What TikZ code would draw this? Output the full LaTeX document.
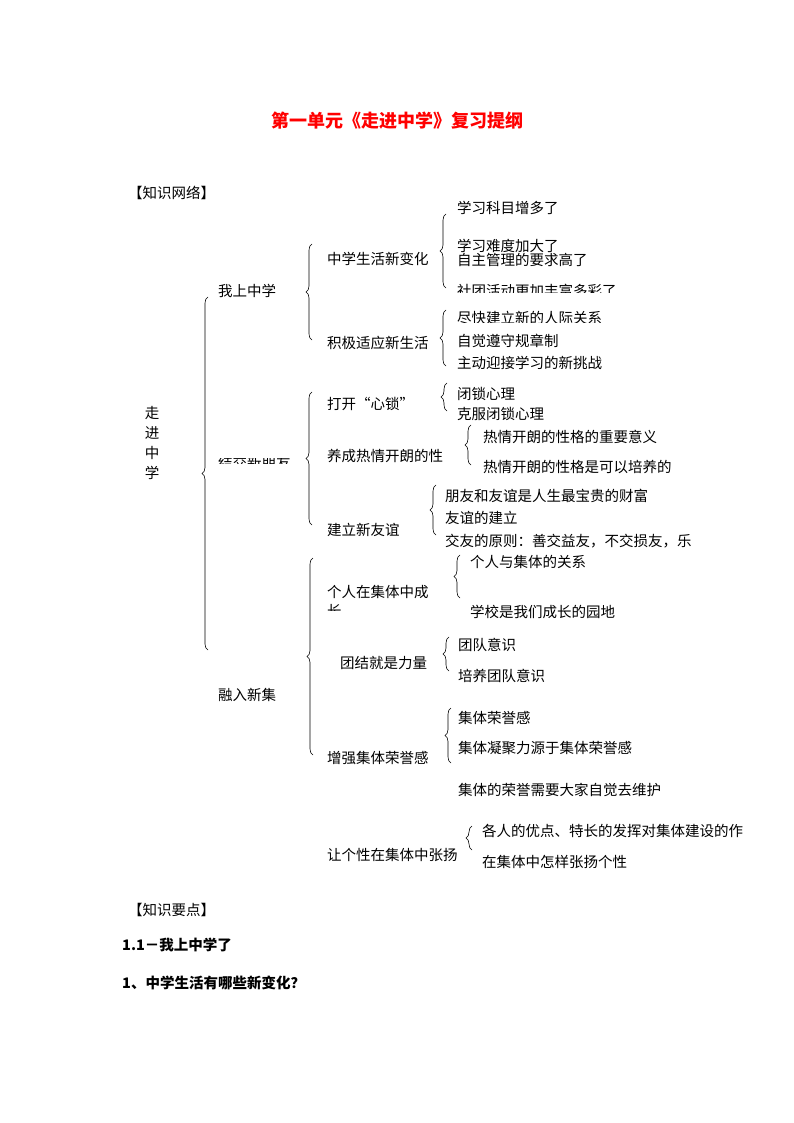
\documentclass[tikz,border=0pt]{standalone}
\usepackage{fontspec}
\setmainfont{Noto Sans CJK SC}
\usetikzlibrary{decorations.pathreplacing}
\begin{document}
\begin{tikzpicture}[x=1pt,y=-1pt,
  t/.style={anchor=west,inner sep=0pt,font=\fontsize{14.5}{14.5}\selectfont},
  br/.style={decorate,decoration={brace,amplitude=6pt},line width=0.6pt}]
\useasboundingbox (0,0) rectangle (794,1123);
\node[t,anchor=center,text=red,font=\fontsize{18}{18}\selectfont\bfseries] (title) at (397,121) {第一单元《走进中学》复习提纲};
\node[t] (kw) at (128,193) {【知识网络】};
\node[t,align=center,anchor=center,font=\fontsize{14.5}{20}\selectfont] (root) at (152,443) {走\\进\\中\\学};
\draw[br] (208,650) -- (208,297);
\node[t] (a) at (218,291) {我上中学};
\begin{scope}\clip (210,458) rectangle (300,463);
\node[t] (b) at (218,463) {结交新朋友};\end{scope}
\node[t] (c) at (218,695) {融入新集};
% group 1
\draw[br] (312,340) -- (312,244);
\node[t] (a1) at (327,259) {中学生活新变化};
\node[t] (a2) at (327,343) {积极适应新生活};
\draw[br] (446,288) -- (446,214);
\node[t] (a11) at (457,208) {学习科目增多了};
\node[t] (a12) at (457,246) {学习难度加大了};
\node[t] (a13) at (457,260) {自主管理的要求高了};
\begin{scope}\clip (450,280) rectangle (700,292);
\node[t] (a14) at (457,291) {社团活动更加丰富多彩了};\end{scope}
\draw[br] (446,366) -- (446,310);
\begin{scope}\clip (450,308) rectangle (700,322);
\node[t] (a21) at (457,318) {尽快建立新的人际关系};\end{scope}
\node[t] (a22) at (457,341) {自觉遵守规章制};
\node[t] (a23) at (457,363) {主动迎接学习的新挑战};
% group 2
\draw[br] (312,525) -- (312,392);
\node[t] (b1) at (327,404) {打开“心锁”};
\node[t] (b2) at (327,456) {养成热情开朗的性};
\node[t] (b3) at (327,530) {建立新友谊};
\draw[br] (447,411) -- (447,383);
\node[t] (b11) at (457,394) {闭锁心理};
\node[t] (b12) at (457,414) {克服闭锁心理};
\draw[br] (471,465) -- (471,425);
\node[t] (b21) at (483,437) {热情开朗的性格的重要意义};
\node[t] (b22) at (483,467) {热情开朗的性格是可以培养的};
\draw[br] (436,535) -- (436,485);
\node[t] (b31) at (445,496) {朋友和友谊是人生最宝贵的财富};
\node[t] (b32) at (445,518) {友谊的建立};
\node[t] (b33) at (445,541) {交友的原则：善交益友，不交损友，乐};
% group 3
\draw[br] (313,755) -- (313,558);
\node[t] (c1) at (327,592) {个人在集体中成};
\begin{scope}\clip (320,600) rectangle (360,610);
\node[t] (c1b) at (327,611) {长};\end{scope}
\node[t] (c2) at (340,663) {团结就是力量};
\node[t] (c3) at (327,758) {增强集体荣誉感};
\node[t] (c4) at (327,855) {让个性在集体中张扬};
\draw[br] (460,598) -- (460,555);
\node[t] (c11) at (470,562) {个人与集体的关系};
\node[t] (c12) at (470,612) {学校是我们成长的园地};
\draw[br] (449,671) -- (449,637);
\node[t] (c21) at (458,645) {团队意识};
\node[t] (c22) at (458,676) {培养团队意识};
\draw[br] (451,763) -- (451,708);
\node[t] (c31) at (458,718) {集体荣誉感};
\node[t] (c32) at (458,748) {集体凝聚力源于集体荣誉感};
\node[t] (c33) at (458,790) {集体的荣誉需要大家自觉去维护};
\draw[br] (472,850) -- (472,826);
\node[t] (c41) at (482,831) {各人的优点、特长的发挥对集体建设的作};
\node[t] (c42) at (482,862) {在集体中怎样张扬个性};
\node[t] (kd) at (128,910) {【知识要点】};
\node[t,font=\fontsize{14.5}{14.5}\selectfont\bfseries] (s1) at (122,945) {1.1－我上中学了};
\node[t,font=\fontsize{14.5}{14.5}\selectfont\bfseries] (s2) at (122,983) {1、中学生活有哪些新变化？};
\end{tikzpicture}
\end{document}
